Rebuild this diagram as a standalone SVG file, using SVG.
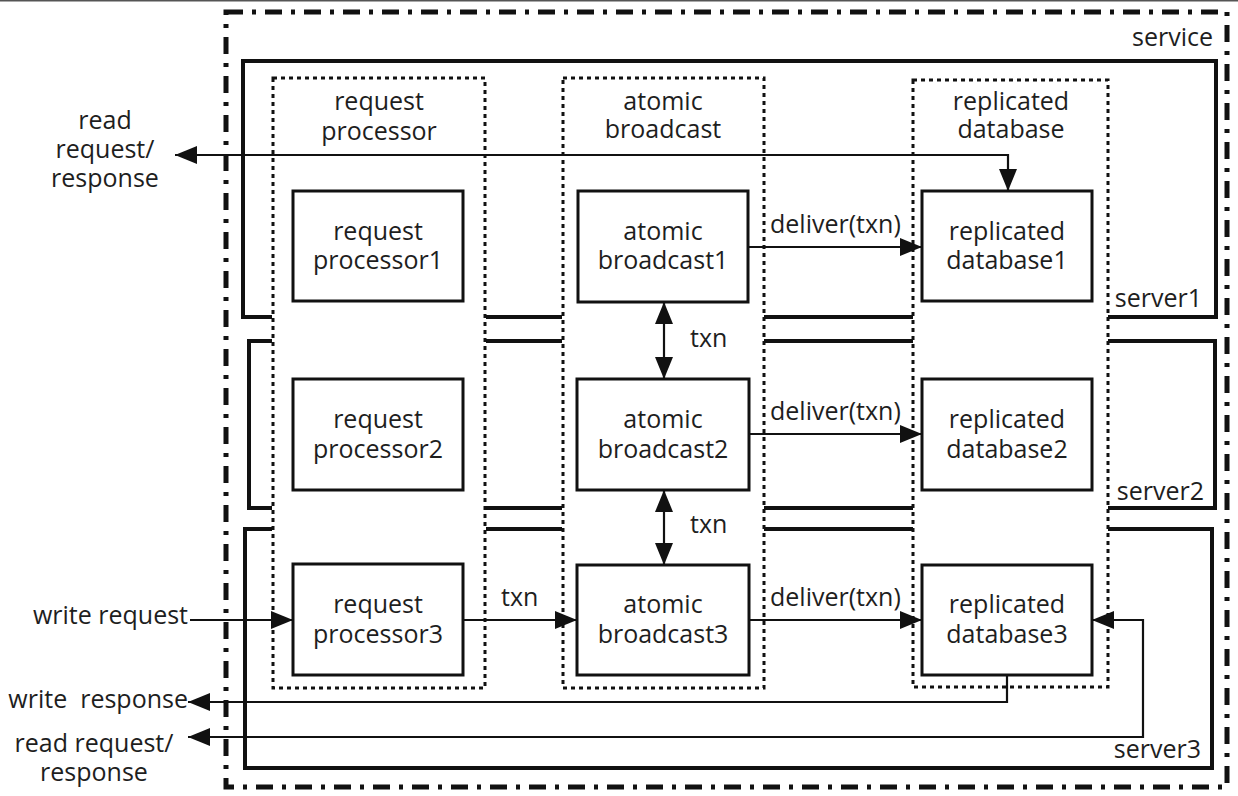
<svg xmlns="http://www.w3.org/2000/svg" width="1238" height="796" viewBox="0 0 1238 796">
<style>
text{font-family:"Open Sans","Liberation Sans",sans-serif;font-size:25px;fill:#1e1e1e}
.c{text-anchor:middle}
.e{text-anchor:end}
.node{fill:#fff;stroke:#111;stroke-width:3}
.col{fill:none;stroke:#111;stroke-width:3;stroke-dasharray:4 4}
.srv{fill:none;stroke:#111;stroke-width:4}
.svc{fill:none;stroke:#111;stroke-width:5;stroke-dasharray:17 9 4 9}
.cn{fill:none;stroke:#111;stroke-width:2.2}
</style>
<defs>
<marker id="arr" markerUnits="userSpaceOnUse" markerWidth="24" markerHeight="20" refX="22" refY="9" orient="auto-start-reverse">
<path d="M0,0 L22,9 L0,18 z" fill="#111"/>
</marker>
</defs>
<rect x="0" y="0" width="1238" height="796" fill="#fff"/>
<line x1="0" y1="0.5" x2="1238" y2="0.5" stroke="#555" stroke-width="2"/>
<g id="service">
<rect class="svc" x="226" y="12" width="1001" height="775"/>
<text class="e" x="1213" y="46">service</text>
</g>
<g id="server1">
<path class="srv" d="M272,317 H243 V61 H1216 V317 H1108 M486,317 H562 M764,317 H913"/>
<text class="e" x="1202" y="307">server1</text>
</g>
<g id="server2">
<path class="srv" d="M272,341 H249 V508 H272 M486,341 H562 M764,341 H913 M1108,341 H1215 V508 H1108 M486,508 H562 M764,508 H913"/>
<text class="e" x="1204" y="500">server2</text>
</g>
<g id="server3">
<path class="srv" d="M272,529 H245 V768 H1212 V529 H1108 M486,529 H562 M764,529 H913"/>
<text class="e" x="1201" y="758">server3</text>
</g>
<g id="col-request-processor">
<rect class="col" x="273" y="78" width="212" height="610"/>
<text class="c" x="379" y="110">request<tspan x="379" dy="30">processor</tspan></text>
</g>
<g id="col-atomic-broadcast">
<rect class="col" x="563" y="78" width="201" height="610"/>
<text class="c" x="663" y="110">atomic<tspan x="663" dy="28">broadcast</tspan></text>
</g>
<g id="col-replicated-database">
<rect class="col" x="913" y="80" width="195" height="607"/>
<text class="c" x="1011" y="110">replicated<tspan x="1011" dy="28">database</tspan></text>
</g>
<g id="rp1"><rect class="node" x="293" y="191" width="170" height="110"/><text class="c" x="378" y="240">request<tspan x="378" dy="29">processor1</tspan></text></g>
<g id="rp2"><rect class="node" x="293" y="379" width="170" height="111"/><text class="c" x="378" y="428">request<tspan x="378" dy="30">processor2</tspan></text></g>
<g id="rp3"><rect class="node" x="293" y="564" width="170" height="111"/><text class="c" x="378" y="613">request<tspan x="378" dy="30">processor3</tspan></text></g>
<g id="ab1"><rect class="node" x="578" y="191" width="170" height="111"/><text class="c" x="663" y="240">atomic<tspan x="663" dy="29">broadcast1</tspan></text></g>
<g id="ab2"><rect class="node" x="577" y="379" width="172" height="111"/><text class="c" x="663" y="428">atomic<tspan x="663" dy="30">broadcast2</tspan></text></g>
<g id="ab3"><rect class="node" x="577" y="565" width="172" height="110"/><text class="c" x="663" y="613">atomic<tspan x="663" dy="30">broadcast3</tspan></text></g>
<g id="rd1"><rect class="node" x="922" y="191" width="170" height="110"/><text class="c" x="1007" y="240">replicated<tspan x="1007" dy="29">database1</tspan></text></g>
<g id="rd2"><rect class="node" x="922" y="379" width="170" height="111"/><text class="c" x="1007" y="428">replicated<tspan x="1007" dy="30">database2</tspan></text></g>
<g id="rd3"><rect class="node" x="922" y="565" width="170" height="110"/><text class="c" x="1007" y="613">replicated<tspan x="1007" dy="30">database3</tspan></text></g>
<g id="connectors">
<path class="cn" d="M175,155 H1008 V191" marker-start="url(#arr)" marker-end="url(#arr)"/>
<path class="cn" d="M748,247 H922" marker-end="url(#arr)"/>
<path class="cn" d="M749,434 H922" marker-end="url(#arr)"/>
<path class="cn" d="M749,620 H922" marker-end="url(#arr)"/>
<path class="cn" d="M664,302 V379" marker-start="url(#arr)" marker-end="url(#arr)"/>
<path class="cn" d="M664,490 V565" marker-start="url(#arr)" marker-end="url(#arr)"/>
<path class="cn" d="M463,620 H577" marker-end="url(#arr)"/>
<path class="cn" d="M190,620 H293" marker-end="url(#arr)"/>
<path class="cn" d="M1007,675 V702 H188" marker-end="url(#arr)"/>
<path class="cn" d="M188,737 H1143 V620 H1092" marker-start="url(#arr)" marker-end="url(#arr)"/>
<text x="770" y="233">deliver(txn)</text>
<text x="770" y="420">deliver(txn)</text>
<text x="770" y="606">deliver(txn)</text>
<text x="690" y="347">txn</text>
<text x="690" y="533">txn</text>
<text x="501" y="606">txn</text>
<text class="c" x="105" y="129">read<tspan x="105" dy="29">request/</tspan><tspan x="105" dy="29">response</tspan></text>
<text class="e" x="188" y="624">write request</text>
<text class="e" x="188" y="708" xml:space="preserve">write  response</text>
<text class="c" x="94" y="752">read request/<tspan x="94" dy="29">response</tspan></text>
</g>
</svg>
